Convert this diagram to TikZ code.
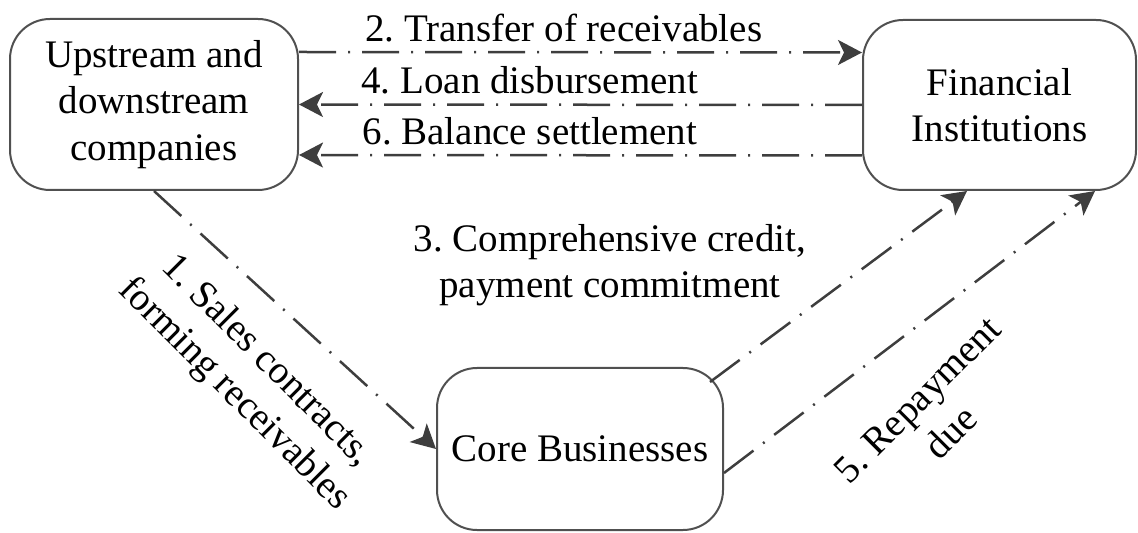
\documentclass[tikz,border=0pt]{standalone}
\usepackage{fontspec}
\setmainfont{Liberation Serif}
\usetikzlibrary{arrows.meta}
\definecolor{lineGrey}{RGB}{62,62,62}
\definecolor{boxGrey}{RGB}{80,80,80}
\frenchspacing
\tikzset{every picture/.style={line width=0.75pt}}
\tikzset{
  party/.style={draw=boxGrey, line width=1pt, rounded corners=20pt, align=center, inner sep=0pt},
  flow/.style={draw=lineGrey, line width=1.25pt, dash pattern={on 18.5pt off 6pt on 1pt off 6pt},
    -{Stealth[length=12pt,width=12.5pt,inset=3pt]}},
  tag/.style={inner sep=4.5pt, align=center, text=black}
}
\begin{document}
\begin{tikzpicture}[x=0.5pt,y=0.5pt,yscale=-1,xscale=1,every node/.style={font=\fontsize{19.5}{23.3}\selectfont}]
	\useasboundingbox (0,0) rectangle (1138,533);

	%Rounded Rect
	\node [party, minimum width=144pt, minimum height=85.5pt] (firms) at (154,104.5) {Upstream and\\downstream\\companies};
	%Rounded Rect
	\node [party, minimum width=136.5pt, minimum height=85pt] (banks) at (999.5,105) {Financial\\Institutions};
	%Rounded Rect
	\node [party, minimum width=143pt, minimum height=81pt] (core) at (580,449) {Core Businesses};

	%Straight Lines (y runs downwards here, so a minus shift goes up)
	\draw [flow] ([yshift=-26.25pt]firms.east) -- ([yshift=-26.25pt]banks.west)
		node [tag, pos=0.47, above] (transfer) {2. Transfer of receivables};
	%Straight Lines
	\draw [flow] (banks.west) -- (firms.east)
		node [tag, pos=0.59, above] (loan) {4. Loan disbursement};
	%Straight Lines
	\draw [flow] ([yshift=25.25pt]banks.west) -- ([yshift=25.25pt]firms.east)
		node [tag, pos=0.59, above] (balance) {6. Balance settlement};
	%Straight Lines
	\draw [flow] (firms.south) -- (core.west);
	%Straight Lines
	\draw [flow] ([xshift=-7pt,yshift=7.5pt]core.north east) -- ([xshift=-16.25pt]banks.south);
	%Straight Lines
	\draw [flow] ([yshift=12pt]core.east) -- ([xshift=47.75pt]banks.south);

	% Text Node
	\node [tag, rotate=-45] (sales) at (250,378) {1. Sales contracts,\\forming receivables};
	% Text Node
	\node [tag] (credit) at (610,265) {3. Comprehensive credit,\\payment commitment};
	% Text Node
	\node [tag, rotate=45] (repay) at (934,416) {5. Repayment\\due};
\end{tikzpicture}
\end{document}
